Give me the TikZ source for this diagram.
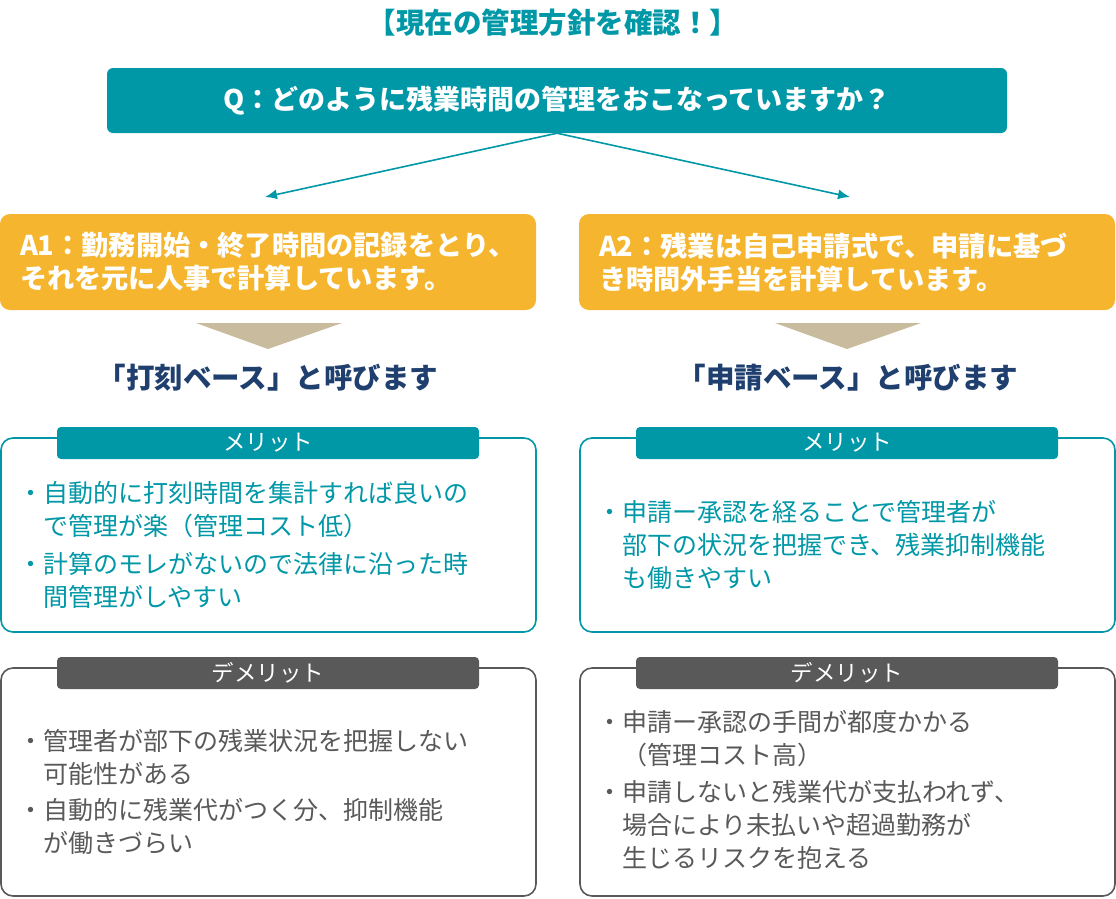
\documentclass[tikz,border=0pt]{standalone}
\usepackage{fontspec}
\setmainfont{Noto Sans CJK JP}
\usetikzlibrary{arrows.meta,positioning}
\definecolor{qteal}{RGB}{0,151,167}
\definecolor{aorange}{RGB}{246,181,46}
\definecolor{arrowtan}{RGB}{201,187,157}
\definecolor{namenavy}{RGB}{31,63,110}
\definecolor{demgray}{RGB}{89,89,89}
\tikzset{
  qbox/.style={fill=qteal, text=white, rounded corners=6pt, minimum width=900pt, minimum height=65pt, font=\fontsize{27}{34}\selectfont\bfseries},
  abox/.style={fill=aorange, text=white, rounded corners=10pt, text width=496pt, inner xsep=20pt, minimum height=96pt, align=left, font=\fontsize{27.2}{33}\selectfont\bfseries},
  namelabel/.style={text=namenavy, font=\fontsize{28.5}{34}\selectfont\bfseries},
  frame/.style={draw=#1, line width=1.6pt, rounded corners=12pt, minimum width=535pt},
  tab/.style={fill=#1, text=white, rounded corners=4pt, minimum width=422pt, minimum height=32pt, inner sep=0pt, font=\fontsize{22.5}{26}\selectfont},
  listtext/.style={text=#1, anchor=north west, align=left, inner sep=0pt, font=\fontsize{25}{33}\selectfont},
  qarrow/.style={draw=qteal, line width=1.6pt, -{Latex[length=12pt,width=10pt]}}
}
\begin{document}
\begin{tikzpicture}[x=1pt,y=-1pt]
\useasboundingbox (0,0) rectangle (1116,898);
% title and question
\node[text=qteal, font=\fontsize{28.5}{34}\selectfont\bfseries] (title) at (553,23) {【現在の管理方針を確認！】};
\node[qbox] (q) at (557,100.5) {Q：どのように残業時間の管理をおこなっていますか？};
\coordinate (a1tip) at (265,197);
\coordinate (a2tip) at (850,197);
\draw[qarrow] (q.south) -- (a1tip);
\draw[qarrow] (q.south) -- (a2tip);
% answers
\node[abox] (a1) at (268,262) {A1：勤務開始・終了時間の記録をとり、\\それを元に人事で計算しています。};
\node[abox] (a2) at (847,262) {A2：残業は自己申請式で、申請に基づ\\き時間外手当を計算しています。};
\fill[arrowtan] (196,323) -- (342,323) -- (268,349) -- cycle;
\fill[arrowtan] (775,323) -- (921,323) -- (847,349) -- cycle;
\node[namelabel] (n1) at (268,378) {「打刻ベース」と呼びます};
\node[namelabel] (n2) at (848,378) {「申請ベース」と呼びます};
% merit
\node[frame=qteal, minimum height=194pt] (m1) at (268.5,535) {};
\node[frame=qteal, minimum height=194pt] (m2) at (847.5,535) {};
\node[tab=qteal] (m1tab) at (268,443) {メリット};
\node[tab=qteal] (m2tab) at (847,443) {メリット};
\node[listtext=qteal] (m1text) at (18,481) {・自動的に打刻時間を集計すれば良いの\\\hspace*{1em}で管理が楽（管理コスト低）\\[5pt]・計算のモレがないので法律に沿った時\\\hspace*{1em}間管理がしやすい};
\node[listtext=qteal] (m2text) at (597,500) {・申請ー承認を経ることで管理者が\\\hspace*{1em}部下の状況を把握でき、残業抑制機能\\\hspace*{1em}も働きやすい};
% demerit
\node[frame=demgray, minimum height=228pt] (d1) at (268.5,782) {};
\node[frame=demgray, minimum height=228pt] (d2) at (847.5,782) {};
\node[tab=demgray] (d1tab) at (268,673) {デメリット};
\node[tab=demgray] (d2tab) at (847,673) {デメリット};
\node[listtext=demgray] (d1text) at (18,729) {・管理者が部下の残業状況を把握しない\\\hspace*{1em}可能性がある\\[3pt]・自動的に残業代がつく分、抑制機能\\\hspace*{1em}が働きづらい};
\node[listtext=demgray] (d2text) at (597,710) {・申請ー承認の手間が都度かかる\\\hspace*{1em}（管理コスト高）\\[4pt]・申請しないと残業代が支払われず、\\\hspace*{1em}場合により未払いや超過勤務が\\\hspace*{1em}生じるリスクを抱える};
\end{tikzpicture}
\end{document}
